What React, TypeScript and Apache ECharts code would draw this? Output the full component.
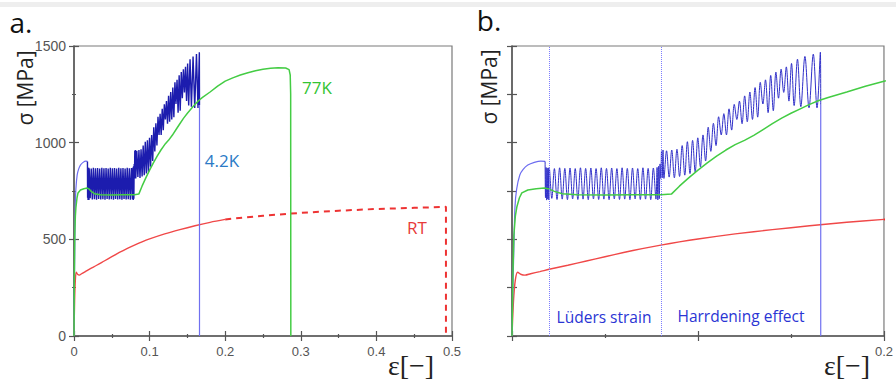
import React, { useEffect, useRef } from "react";
import * as echarts from "echarts";

// ---- axis ranges ----
const stressRange = [0, 1500];
const strainRangeA = [0, 0.5];
const strainRangeB = [0, 0.2];
const ludersBounds = [0.018, 0.0795];

// ---- RT (room temperature) ----
const redSolid: [number, number][] = [
  [0, 0], [0.0008, 180], [0.0018, 290], [0.003, 330], [0.005, 318], [0.007, 315],
  [0.01, 322], [0.015, 333], [0.02, 345], [0.03, 366], [0.04, 388], [0.05, 410],
  [0.06, 432], [0.07, 452], [0.08, 470], [0.09, 487], [0.1, 502], [0.12, 528],
  [0.14, 550], [0.16, 570], [0.18, 588], [0.2, 603],
];
const redDashed: [number, number][] = [
  [0.2, 603], [0.25, 622], [0.3, 637], [0.35, 648], [0.4, 657], [0.45, 663],
  [0.492, 668], [0.492, 0],
];

// ---- 77K ----
const green77K: [number, number][] = [
  [0, 0], [0.0005, 320], [0.001, 520], [0.0018, 620], [0.0026, 667], [0.004, 715],
  [0.0053, 740], [0.0085, 755], [0.013, 762], [0.0175, 765], [0.02, 760], [0.0228, 748],
  [0.027, 736], [0.035, 731], [0.05, 729], [0.065, 730], [0.08, 731], [0.0857, 734],
  [0.09, 775], [0.095, 818], [0.1, 858], [0.105, 895], [0.11, 930], [0.115, 962],
  [0.12, 990], [0.125, 1012], [0.13, 1038], [0.135, 1068], [0.14, 1098], [0.145, 1127],
  [0.15, 1152], [0.155, 1175], [0.16, 1198], [0.165, 1218], [0.17, 1234], [0.18, 1262],
  [0.19, 1292], [0.2, 1318], [0.21, 1335], [0.22, 1350], [0.23, 1362], [0.24, 1372],
  [0.25, 1380], [0.26, 1385], [0.27, 1388], [0.28, 1386], [0.2845, 1378], [0.286, 1350],
  [0.2866, 1250], [0.2868, 0],
];

// ---- 4.2K ----
const blueRise: [number, number][] = [
  [0, 0], [0.0005, 250], [0.001, 450], [0.0016, 667], [0.0025, 760], [0.0042, 833],
  [0.006, 862], [0.0085, 884], [0.012, 898], [0.0155, 905], [0.0178, 903],
];
const blueSerrated: [number, number][] = [
  [0.0178, 903], [0.018, 715], [0.0183, 872], [0.0186, 703], [0.0189, 868], [0.0192, 708],
  [0.0195, 870], [0.0198, 704], [0.0201, 866],
  [0.0214, 712], [0.0228, 866], [0.0242, 706], [0.0256, 870], [0.027, 708], [0.0284, 867],
  [0.0298, 705], [0.0312, 869], [0.0326, 709], [0.034, 866], [0.0354, 706], [0.0368, 870],
  [0.0382, 708], [0.0396, 867], [0.041, 705], [0.0424, 869], [0.0438, 709], [0.0452, 866],
  [0.0466, 706], [0.048, 870], [0.0494, 708], [0.0508, 867], [0.0522, 705], [0.0536, 869],
  [0.055, 709], [0.0564, 866], [0.0578, 706], [0.0592, 870], [0.0606, 708], [0.062, 867],
  [0.0634, 705], [0.0648, 869], [0.0662, 709], [0.0676, 866], [0.069, 706], [0.0704, 870],
  [0.0718, 708], [0.0732, 867], [0.0746, 705], [0.076, 869], [0.0774, 708],
  [0.078, 872], [0.0784, 704], [0.0788, 878], [0.0792, 710], [0.0796, 890],
  [0.08, 815], [0.0804, 958], [0.0808, 818], [0.0812, 962], [0.0817, 815],
  [0.0831, 958], [0.0845, 822], [0.0859, 962], [0.0873, 818], [0.0887, 966], [0.0901, 825],
  [0.0915, 985], [0.0929, 832], [0.0943, 1005], [0.0957, 840], [0.0971, 1012], [0.0985, 848],
  [0.0999, 1025], [0.1013, 875], [0.1027, 1040], [0.1041, 905],
  [0.1055, 1080], [0.1069, 955], [0.1083, 1100], [0.1097, 985], [0.1111, 1134], [0.1125, 1040],
  [0.1139, 1150], [0.1153, 1040], [0.1167, 1175], [0.1181, 1065], [0.1195, 1198], [0.1209, 1120],
  [0.1223, 1215], [0.1237, 1098], [0.1251, 1242], [0.1265, 1108], [0.1279, 1262], [0.1293, 1120],
  [0.1307, 1285], [0.1321, 1132], [0.1335, 1312], [0.1349, 1200], [0.1363, 1325], [0.1377, 1155],
  [0.1391, 1348], [0.1405, 1165], [0.1419, 1365], [0.1433, 1230], [0.1447, 1380], [0.1461, 1260],
  [0.1475, 1392], [0.1489, 1215], [0.1503, 1410], [0.1517, 1192], [0.1535, 1432], [0.1553, 1186],
  [0.1575, 1446], [0.1597, 1180], [0.162, 1458], [0.164, 1180], [0.1658, 1468], [0.166, 1195],
];
const blueFracture: [number, number][] = [[0.166, 1195], [0.166, 0]];

const AXIS_COLOR = "#555";
const LABEL_FONT = "Liberation Sans";

function mainX(gridIndex: number, range: number[], onlyMax: boolean) {
  return {
    type: "value", gridIndex, position: "bottom", min: range[0], max: range[1], interval: 0.1,
    axisLine: { show: true, lineStyle: { color: AXIS_COLOR, width: 1.5 } },
    axisTick: { show: true, inside: false, length: 5, lineStyle: { color: AXIS_COLOR, width: 1.2 } },
    minorTick: { show: true, splitNumber: 2, length: 2, lineStyle: { color: AXIS_COLOR, width: 1.2 } },
    splitLine: { show: false },
    axisLabel: {
      show: true, color: AXIS_COLOR, fontSize: 13, fontFamily: LABEL_FONT, margin: 9,
      showMaxLabel: true, showMinLabel: true,
      formatter: onlyMax
        ? (v: number) => (Math.abs(v - range[1]) < 1e-9 ? String(range[1]) : "")
        : (v: number) => String(Math.round(v * 10) / 10),
    },
  };
}
function innerX(gridIndex: number, range: number[]) {
  return {
    type: "value", gridIndex, position: "bottom", min: range[0], max: range[1], interval: 0.1,
    axisLine: { show: false },
    axisTick: { show: true, inside: true, length: 5, lineStyle: { color: AXIS_COLOR, width: 1.2 } },
    minorTick: { show: true, splitNumber: 2, length: 2, lineStyle: { color: AXIS_COLOR, width: 1.2 } },
    splitLine: { show: false },
    axisLabel: { show: false },
  };
}
function mainY(gridIndex: number, interval: number, labels: boolean, minor: boolean) {
  return {
    type: "value", gridIndex, position: "left", min: stressRange[0], max: stressRange[1], interval,
    axisLine: { show: true, lineStyle: { color: AXIS_COLOR, width: 1.5 } },
    axisTick: { show: true, inside: false, length: 5, lineStyle: { color: AXIS_COLOR, width: 1.2 } },
    minorTick: { show: minor, splitNumber: 2, length: 2, lineStyle: { color: AXIS_COLOR, width: 1.2 } },
    splitLine: { show: false },
    axisLabel: {
      show: labels, color: AXIS_COLOR, fontSize: 14, fontFamily: LABEL_FONT, margin: 8,
      formatter: (v: number) => String(v),
    },
  };
}
function innerY(gridIndex: number, interval: number, minor: boolean) {
  return {
    type: "value", gridIndex, position: "left", min: stressRange[0], max: stressRange[1], interval,
    axisLine: { show: false },
    axisTick: { show: true, inside: true, length: 5, lineStyle: { color: AXIS_COLOR, width: 1.2 } },
    minorTick: { show: minor, splitNumber: 2, length: 2, lineStyle: { color: AXIS_COLOR, width: 1.2 } },
    splitLine: { show: false },
    axisLabel: { show: false },
  };
}

function panelSeries(axisIndex: number, zoomed: boolean) {
  const base = { type: "line", xAxisIndex: axisIndex, yAxisIndex: axisIndex, showSymbol: false, symbol: "none", clip: true, silent: true };
  const list: any[] = [
    { ...base, name: "RT", data: redSolid, smooth: 0.3, lineStyle: { color: "#f04848", width: 1.4 } },
    { ...base, name: "RT-dash", data: redDashed, lineStyle: { color: "#ee3333", width: 2, type: [6, 5] } },
    { ...base, name: "4.2K-rise", data: blueRise, smooth: 0.3, lineStyle: { color: "#6c6cf0", width: 1.2 } },
    {
      ...base, name: "4.2K", data: blueSerrated, smooth: zoomed ? 0.35 : 0,
      lineStyle: zoomed ? { color: "#3030c8", width: 1 } : { color: "#1c1cae", width: 1.4 },
    },
    {
      ...base, name: "4.2K-fracture", data: blueFracture, lineStyle: { color: "#7070f0", width: 1.2 },
      markLine: zoomed
        ? {
            silent: true, symbol: "none", label: { show: false },
            lineStyle: { color: "#7d7dff", width: 1, type: "dotted" },
            data: ludersBounds.map((v) => ({ xAxis: v })),
          }
        : undefined,
    },
    { ...base, name: "77K", data: green77K, lineStyle: { color: "#44cc44", width: 1.5 } },
  ];
  return list;
}

function txt(x: number, y: number, text: string, size: number, fill: string, family: string, rotation = 0) {
  return {
    type: "text", x, y, rotation, silent: true,
    style: {
      text, fill, fontSize: size, fontFamily: family, lineHeight: size,
      textAlign: "center", textVerticalAlign: "middle", verticalAlign: "middle",
    },
  };
}

export default function App() {
  const ref = useRef<HTMLDivElement>(null);
  useEffect(() => {
    if (!ref.current) return;
    const chart = echarts.init(ref.current, undefined, { renderer: "svg" });
    const SANS = "Open Sans";
    const SERIF = "Liberation Serif";
    chart.setOption({
      animation: false,
      backgroundColor: "#ffffff",
      grid: [
        { left: 74, top: 46, width: 378, height: 290, show: true, borderColor: "#7a7a7a", borderWidth: 1.2 },
        { left: 512, top: 46, width: 378, height: 290, show: true, borderColor: "#7a7a7a", borderWidth: 1.2 },
      ],
      xAxis: [mainX(0, strainRangeA, false), innerX(0, strainRangeA), mainX(1, strainRangeB, true), innerX(1, strainRangeB)],
      yAxis: [mainY(0, 500, true, true), innerY(0, 500, true), mainY(1, 250, false, false), innerY(1, 250, false)],
      series: [...panelSeries(0, false), ...panelSeries(2, true)],
      graphic: [
        { type: "rect", shape: { x: 0, y: 2, width: 896, height: 5 }, style: { fill: "#eeeeee" }, silent: true },
        txt(21, 22, "a.", 28, "#111", SANS),
        txt(489, 20, "b.", 28, "#111", SANS),
        txt(25, 88, "σ [MPa]", 21, "#222", SANS, Math.PI / 2),
        txt(489, 87, "σ [MPa]", 21, "#222", SANS, Math.PI / 2),
        txt(411, 365, "ε[−]", 28, "#222", SERIF),
        txt(847, 365, "ε[−]", 28, "#222", SERIF),
        txt(317, 87, "77K", 17, "#33c433", SANS),
        txt(222, 160, "4.2K", 17, "#2b7ac6", SANS),
        txt(417, 227, "RT", 17, "#e83a3a", SANS),
        txt(604, 317, "Lüders strain", 15.5, "#2a35d4", SANS),
        txt(741, 316, "Harrdening effect", 15.5, "#2a35d4", SANS),
      ],
    });
    return () => chart.dispose();
  }, []);
  return <div ref={ref} style={{ position: "fixed", left: 0, top: 0, width: 896, height: 380, background: "#fff" }} />;
}
